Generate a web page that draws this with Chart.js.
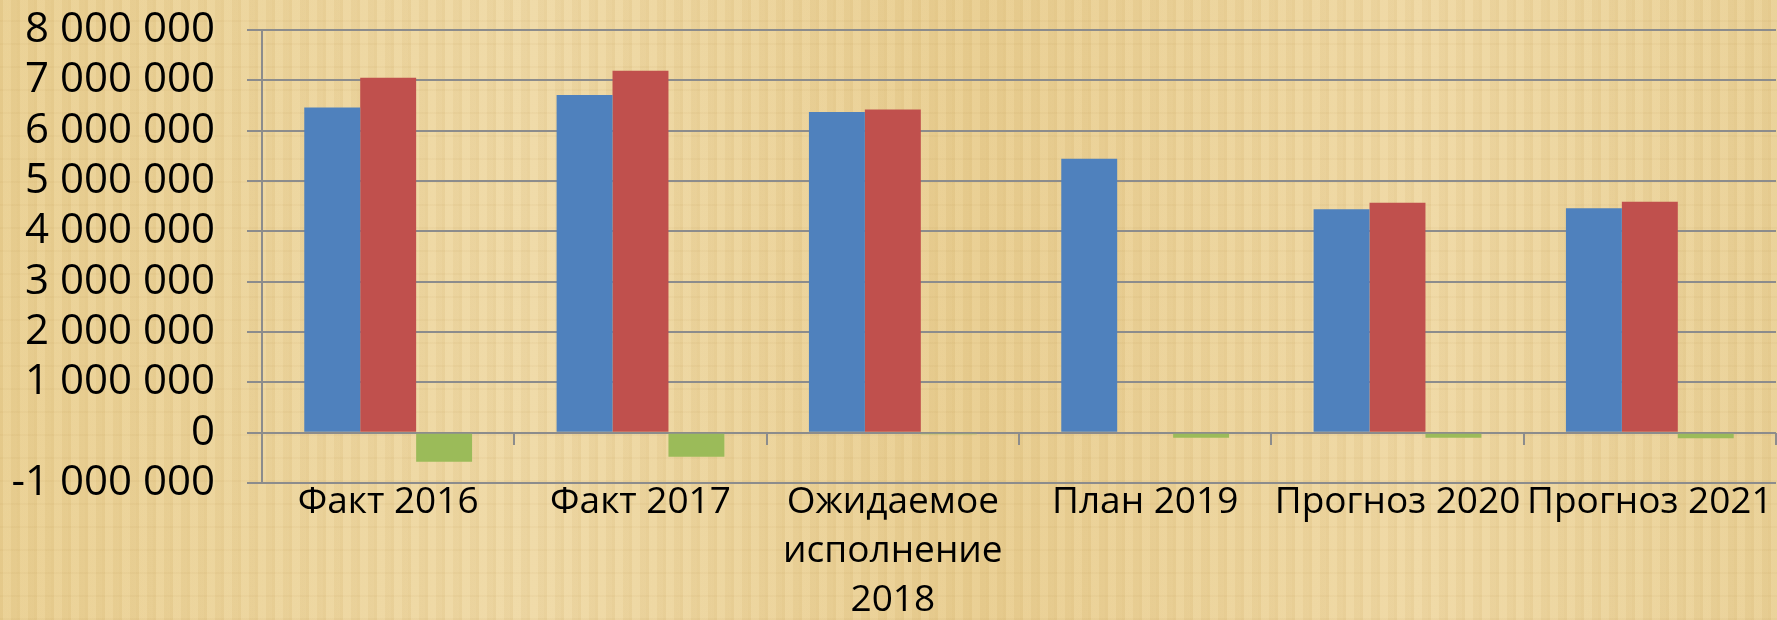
<!DOCTYPE html>
<html>
<head>
<meta charset="utf-8">
<script src="https://cdn.jsdelivr.net/npm/chart.js@4/dist/chart.umd.min.js"></script>
<style>
  html, body { margin: 0; padding: 0; }
  body {
    width: 1777px; height: 620px; overflow: hidden;
    background-color: #ebd39c;
    background-image:
      repeating-linear-gradient(90deg, rgba(190,150,70,0.10) 0px, rgba(190,150,70,0.10) 3px, rgba(255,240,200,0.08) 3px, rgba(255,240,200,0.08) 11px, rgba(180,140,60,0.06) 11px, rgba(180,140,60,0.06) 17px),
      repeating-linear-gradient(0deg, rgba(170,130,60,0.06) 0px, rgba(170,130,60,0.06) 2px, transparent 2px, transparent 23px),
      linear-gradient(90deg, #e9cf92 0%, #efd9a6 30%, #e8cd90 55%, #efd8a4 80%, #e9d096 100%);
  }
  #wrap { position: relative; width: 1777px; height: 620px; }
</style>
</head>
<body>
<div id="wrap"><canvas id="myChart"></canvas></div>
<script>
let categories = ['Факт 2016', 'Факт 2017', ['Ожидаемое', 'исполнение', '2018'], 'План 2019', 'Прогноз 2020', 'Прогноз 2021'];

let seriesBlue = [6460000, 6710000, 6370000, 5440000, 4440000, 4460000];
let seriesRed = [7050000, 7190000, 6420000, 0, 4570000, 4590000];
let seriesGreen = [-580000, -480000, -30000, -100000, -100000, -110000];

let yMin = -1000000;
let yMax = 8000000;
let yStep = 1000000;

const gridColor = '#8c8c8c';

function formatTick(v) {
    let s = Math.abs(v).toFixed(0).replace(/\B(?=(\d{3})+(?!\d))/g, ' ');
    return (v < 0 ? '-' : '') + s;
}

let chartElement = document.getElementById('myChart').getContext('2d');

let myChart = new Chart(chartElement, {
    type: 'bar',
    data: {
        labels: categories,
        datasets: [
            { data: seriesBlue, backgroundColor: '#4f81bd' },
            { data: seriesRed, backgroundColor: '#c0504d' },
            { data: seriesGreen, backgroundColor: '#9bbb59' }
        ]
    },
    options: {
        responsive: true,
        maintainAspectRatio: false,
        animation: false,
        events: [],
        layout: { padding: { top: 0, right: 1, left: 0, bottom: 0 } },
        datasets: {
            bar: { categoryPercentage: 0.665, barPercentage: 1.0, borderWidth: 0 }
        },
        plugins: {
            legend: { display: false },
            tooltip: { enabled: false }
        },
        scales: {
            x: {
                grid: { display: false },
                border: { display: false },
                ticks: {
                    color: '#000',
                    maxRotation: 0,
                    autoSkip: false,
                    padding: -13,
                    font: { family: '"Open Sans"', size: 37, lineHeight: 49 / 37 }
                },
                afterFit: s => { s.height = 137; }
            },
            x2: {
                type: 'category',
                labels: categories,
                position: { y: 0 },
                offset: true,
                grid: { offset: true, drawOnChartArea: false, color: gridColor, lineWidth: 2, tickLength: 12 },
                border: { display: false },
                ticks: { display: false }
            },
            y: {
                min: yMin,
                max: yMax,
                grid: { color: gridColor, lineWidth: 2, tickLength: 15 },
                border: { display: true, color: gridColor, width: 2 },
                ticks: {
                    stepSize: yStep,
                    autoSkip: false,
                    color: '#000',
                    padding: 32,
                    font: { family: '"Open Sans"', size: 42, lineHeight: 1.0 },
                    callback: v => formatTick(v)
                },
                afterFit: s => {
                    s.width = 262;
                    s.paddingTop = 30;
                    s.paddingBottom = 0;
                }
            }
        }
    }
});
</script>
</body>
</html>
